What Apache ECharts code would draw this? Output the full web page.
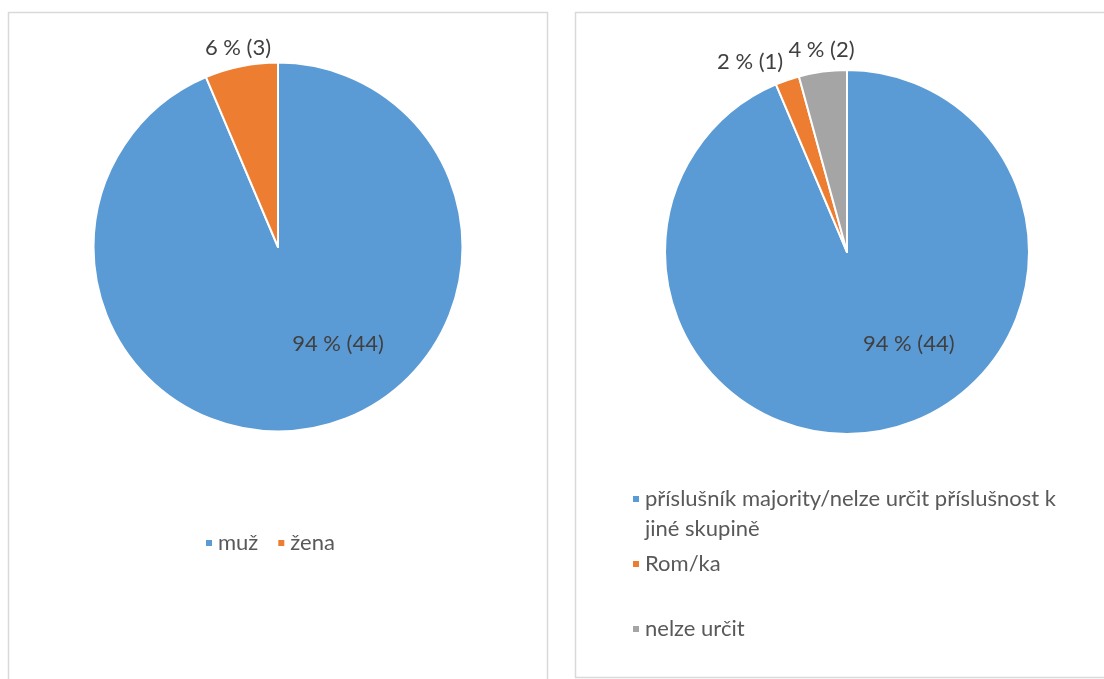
<!DOCTYPE html>
<html>
<head>
<meta charset="utf-8">
<script src="https://cdn.jsdelivr.net/npm/echarts@6/dist/echarts.min.js"></script>
<style>
html,body{margin:0;padding:0;background:#fff;}
#main{width:1104px;height:679px;}
</style>
</head>
<body>
<div id="main"></div>
<script>
// ---- data ----
var leftCategories = ['muž', 'žena'];
var leftValues = [44, 3];
var rightCategories = ['příslušník majority/nelze určit příslušnost k jiné skupině', 'Rom/ka', 'nelze určit'];
var rightValues = [44, 1, 2];

// ---- styles ----
var colors = ['#5B9BD5', '#ED7D31', '#A5A5A5'];
var FONT = 'Lato';
var FS = 22;
var LEGEND_WRAP = 440;
var leftLabelOffsets = [[41, 4], [-21, -106]];
var rightLabelOffsets = [[43, 0], [-66, -101], [-13, -109]];

function pct(values, i) {
  var s = values.reduce(function (a, b) { return a + b; }, 0);
  return Math.round(values[i] / s * 100) + ' % (' + values[i] + ')';
}

// greedy word wrap measured with the legend font
var measureCtx = document.createElement('canvas').getContext('2d');
function wrap(text, maxW) {
  measureCtx.font = FS + 'px ' + FONT;
  var words = text.split(' ');
  var lines = [];
  var cur = '';
  words.forEach(function (w) {
    var test = cur ? cur + ' ' + w : w;
    if (cur && measureCtx.measureText(test).width > maxW) {
      lines.push(cur);
      cur = w;
    } else {
      cur = test;
    }
  });
  if (cur) lines.push(cur);
  return lines;
}

function buildData(cats, vals, offsets) {
  return cats.map(function (c, i) {
    return {
      name: c,
      value: vals[i],
      itemStyle: { color: colors[i] },
      label: { offset: offsets[i] }
    };
  });
}

var labelStyle = {
  show: true,
  position: 'inside',
  color: '#404040',
  fontFamily: FONT,
  fontSize: FS
};

var chart = echarts.init(document.getElementById('main'), null, { renderer: 'canvas' });
chart.setOption({
  animation: false,
  color: colors,
  graphic: [
    { type: 'rect', shape: { x: 8.5, y: 12.5, width: 539, height: 700 }, style: { fill: 'none', stroke: '#D9D9D9', lineWidth: 1.5 }, silent: true },
    { type: 'rect', shape: { x: 575.5, y: 12.5, width: 600, height: 665 }, style: { fill: 'none', stroke: '#D9D9D9', lineWidth: 1.5 }, silent: true }
  ],
  legend: [
    {
      data: leftCategories,
      orient: 'horizontal',
      left: 204,
      top: 531,
      padding: 0,
      itemWidth: 8,
      itemHeight: 8,
      itemGap: 18,
      itemTextGap: 7,
      icon: 'rect',
      textStyle: { color: '#595959', fontFamily: FONT, fontSize: FS, lineHeight: 24 }
    },
    {
      data: [rightCategories[0], rightCategories[1]],
      orient: 'vertical',
      left: 631,
      top: 454,
      padding: 0,
      itemWidth: 8,
      itemHeight: 8,
      itemGap: 5,
      itemTextGap: 10,
      icon: 'rect',
      // wrapped lines; a leading empty line keeps the marker level with the first text line
      formatter: function (name) {
        var lines = wrap(name, LEGEND_WRAP);
        return lines.length > 1 ? '\n' + lines.join('\n') : name;
      },
      textStyle: { color: '#595959', fontFamily: FONT, fontSize: FS, lineHeight: 30 }
    },
    {
      data: [rightCategories[2]],
      orient: 'vertical',
      left: 631,
      top: 614,
      padding: 0,
      itemWidth: 8,
      itemHeight: 8,
      itemTextGap: 10,
      icon: 'rect',
      textStyle: { color: '#595959', fontFamily: FONT, fontSize: FS, lineHeight: 30 }
    }
  ],
  series: [
    {
      type: 'pie',
      center: [278, 247],
      radius: 184.5,
      startAngle: 90,
      clockwise: true,
      itemStyle: { borderColor: '#fff', borderWidth: 2 },
      label: Object.assign({}, labelStyle, { formatter: function (p) { return pct(leftValues, p.dataIndex); } }),
      labelLine: { show: false },
      emphasis: { disabled: true },
      data: buildData(leftCategories, leftValues, leftLabelOffsets)
    },
    {
      type: 'pie',
      center: [847, 252],
      radius: 182,
      startAngle: 90,
      clockwise: true,
      itemStyle: { borderColor: '#fff', borderWidth: 2 },
      label: Object.assign({}, labelStyle, { formatter: function (p) { return pct(rightValues, p.dataIndex); } }),
      labelLine: { show: false },
      emphasis: { disabled: true },
      data: buildData(rightCategories, rightValues, rightLabelOffsets)
    }
  ]
});
</script>
</body>
</html>
